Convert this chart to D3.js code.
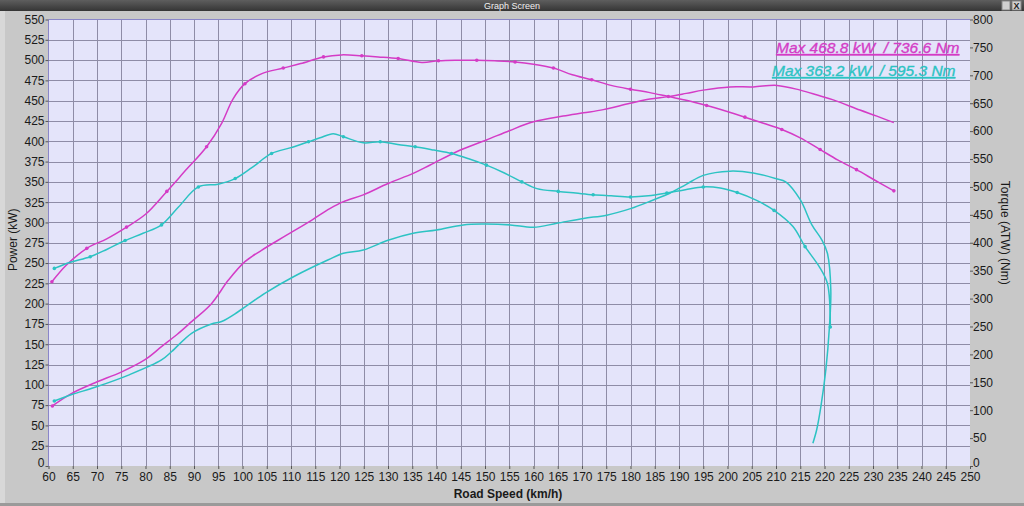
<!DOCTYPE html>
<html><head><meta charset="utf-8">
<script src="https://cdn.jsdelivr.net/npm/d3@7"></script>
<style>
html,body{margin:0;padding:0;background:#c9c9c9;}
svg{display:block;font-family:Arial,"Liberation Sans",sans-serif;}
</style></head>
<body>
<svg id="c" width="1024" height="506"></svg>
<script>
// ---- data ----
const speedTicks = d3.range(60, 251, 5);
const powerTicks = d3.range(0, 551, 25);
const torqueTicks = d3.range(0, 801, 50);

// Run 1 (magenta) power kW
const magentaPower = [[60.8,74],[64.8,89.5],[69.6,102.6],[75.1,116],[79.9,131],[83.3,147],[86.5,162],[89.5,177.8],[93.6,200],[97.1,229],[100.5,251.7],[104,266],[109,284],[114.3,303],[118,317],[120.8,325.6],[124.9,334],[130,348],[135.2,360.5],[138.7,370.8],[144.8,389],[150.3,401.6],[155,413],[160,424],[166.1,431],[170.3,435],[174.4,439],[179.9,446.8],[184,452],[187.8,455],[191.5,459],[195,463],[200.5,467],[205.3,467],[210.2,468.8],[215,463],[218.5,457],[221.8,451],[227.3,438.5],[230.8,431],[234.3,423]];
// Run 1 (magenta) torque Nm
const magentaTorque = [[60.7,330],[63.7,360],[67.9,390],[72,407],[76.1,428],[80,451],[84.4,492],[88,527],[92.6,572],[95.7,614],[98,657],[100.5,685],[104,703],[108.4,713],[112,721],[116.7,733],[120.4,736.6],[124.6,735],[128,733],[132.1,730],[137,723],[140.4,726],[144,727],[148.3,727],[152,726],[156.2,724],[160,720],[164.1,713],[168,701],[172,692],[176,682],[180,675],[184,669],[187.8,662],[191.7,655],[195.7,646],[199.6,636],[203.6,625],[207.4,614],[211.2,603],[215,588],[219.1,567],[222.8,548],[226.6,531],[230.4,512],[234.3,493]];
const magentaMarks = [60.7,67.9,76.1,84.4,92.6,100.5,108.4,116.7,124.6,132.1,140.4,148.3,156.2,164.1,172,180,187.8,195.7,203.6,211.2,219.1,226.6,234.3];

// Run 2 (cyan) power kW
const cyanPower = [[61.2,80],[64.8,88],[69.6,97],[76.5,112],[83.3,130.6],[85.4,141],[89.5,163.5],[93.6,175],[95.7,178],[99.1,190],[104.6,212.7],[110.8,234],[117.7,254],[120.8,262],[124.9,266],[130,278],[135.2,286.6],[140,290.7],[145.5,297],[149.7,298],[155.2,297],[160,294],[164.8,299],[170.3,305],[175.1,309],[180,317],[184.7,327.7],[188.1,336],[191.5,347],[195,358],[200.5,363.2],[205.3,361],[210,354],[212,350],[215,328],[217.4,297],[219.5,278],[220.6,262],[221.3,217],[221,170],[220.3,120],[219.3,75],[218.4,45],[217.6,28]];
// Run 2 (cyan) torque Nm
const cyanTorque = [[61.2,354],[64.5,365],[68.6,375],[72,388],[75.8,404],[79.5,417],[83.3,432],[86.8,464],[90.9,500],[95,505],[98.5,515],[102,535],[106,560],[109.8,570],[113.6,581],[116,588],[118.7,595.3],[120.8,590],[124.9,579],[128.4,581],[132,576],[135.6,572],[139.5,566],[143.1,560],[146.8,550],[150.3,539],[154,525],[157.6,509],[160.7,497],[165.1,492],[168.7,489],[172.3,486],[176,484],[180,482],[183.7,484],[187.5,489],[191.3,495],[195,500],[198.5,498],[202,490],[206,476],[209.6,458],[213.5,429],[216,393],[219,356],[220.6,327],[221.2,249]];
const cyanMarks = [61.2,68.6,75.8,83.3,90.9,98.5,106,113.6,120.8,128.4,135.6,143.1,150.3,157.6,165.1,172.3,180,187.5,195,202,209.6,216,221.2];

const legendLines = ["Max 468.8 kW  / 736.6 Nm", "Max 363.2 kW  / 595.3 Nm"];
const colors = {magenta:"#d43cc6", cyan:"#2cc3c3"};

// ---- layout ----
const W = 1024, H = 506;
const plot = {l:48.5, r:970, t:19.5, b:466};
const svg = d3.select("#c");

const x = d3.scaleLinear().domain([60,250]).range([plot.l, plot.r]);
const yP = d3.scaleLinear().domain([0,550]).range([plot.b, plot.t]);
const yT = d3.scaleLinear().domain([0,800]).range([plot.b, plot.t]);

// window background
svg.append("rect").attr("width",W).attr("height",H).attr("fill","#c8c8c8");
svg.append("rect").attr("x",0).attr("y",11).attr("width",5).attr("height",H-11).attr("fill","#d8d8d8");
svg.append("rect").attr("x",0).attr("y",H-3).attr("width",W).attr("height",3).attr("fill","#9a9a9a");

// title bar
const grad = svg.append("defs").append("linearGradient").attr("id","tb").attr("x1",0).attr("x2",0).attr("y1",0).attr("y2",1);
grad.append("stop").attr("offset",0).attr("stop-color","#5e5e5e");
grad.append("stop").attr("offset",1).attr("stop-color","#353535");
svg.append("rect").attr("width",W).attr("height",11).attr("fill","url(#tb)");
svg.append("text").attr("x",512).attr("y",9).attr("text-anchor","middle").attr("font-size",9).attr("fill","#f0f0f0").text("Graph Screen");
svg.append("rect").attr("x",1002).attr("y",1).attr("width",8).attr("height",9).attr("fill","#d0d0d0").attr("stroke","#888");
svg.append("rect").attr("x",1012).attr("y",1).attr("width",9).attr("height",9).attr("fill","#d0d0d0").attr("stroke","#888");
svg.append("text").attr("x",1016.5).attr("y",9).attr("text-anchor","middle").attr("font-size",9).attr("font-weight","bold").attr("fill","#222").text("X");

// plot background
svg.append("rect").attr("x",plot.l).attr("y",plot.t).attr("width",plot.r-plot.l).attr("height",plot.b-plot.t).attr("fill","#e4e4fa");

// grid
const grid = svg.append("g").attr("stroke","#8e8ca6").attr("stroke-width",1).attr("shape-rendering","crispEdges");
grid.selectAll("line.v").data(speedTicks.slice(1,-1)).join("line")
  .attr("x1",d=>Math.round(x(d))+0.5).attr("x2",d=>Math.round(x(d))+0.5).attr("y1",plot.t).attr("y2",plot.b);
grid.selectAll("line.h").data(powerTicks.slice(1,-1)).join("line")
  .attr("y1",d=>Math.round(yP(d))+0.5).attr("y2",d=>Math.round(yP(d))+0.5).attr("x1",plot.l).attr("x2",plot.r);
// plot border (left/top)
svg.append("line").attr("x1",plot.l).attr("x2",plot.l).attr("y1",plot.t).attr("y2",plot.b).attr("stroke","#8a86c8");
svg.append("line").attr("x1",plot.l).attr("x2",plot.r).attr("y1",plot.t).attr("y2",plot.t).attr("stroke","#8a86c8");

// axes
const axisStyle = g => {
  g.select(".domain").remove();
  g.selectAll("text").attr("fill","#1a1a1a").attr("font-size",12).attr("font-family","Arial,'Liberation Sans',sans-serif");
  g.selectAll("line").attr("stroke","#555");
};
const gl = svg.append("g").attr("transform",`translate(${plot.l},0)`)
  .call(d3.axisLeft(yP).tickValues(powerTicks).tickSize(3).tickPadding(1)).call(axisStyle);
const gr = svg.append("g").attr("transform",`translate(${plot.r},0)`)
  .call(d3.axisRight(yT).tickValues(torqueTicks).tickSize(3).tickPadding(0)).call(axisStyle);
// lift the zero labels slightly, as in the reference
gl.selectAll(".tick").filter(d=>d===0).select("text").attr("dy","0.05em");
gr.selectAll(".tick").filter(d=>d===0).select("text").attr("dy","0.05em");
svg.append("g").attr("transform",`translate(0,${plot.b})`)
  .call(d3.axisBottom(x).tickValues(speedTicks).tickSize(3).tickPadding(3)).call(axisStyle);

// axis titles
svg.append("text").attr("transform",`translate(17,${(plot.t+plot.b)/2 - 3}) rotate(-90)`).attr("text-anchor","middle")
  .attr("font-size",12).attr("fill","#1a1a1a").text("Power (kW)");
svg.append("text").attr("transform",`translate(1001,${(plot.t+plot.b)/2 - 10}) rotate(90)`).attr("text-anchor","middle")
  .attr("font-size",12).attr("fill","#1a1a1a").text("Torque (ATW) (Nm)");
svg.append("text").attr("x",508).attr("y",498).attr("text-anchor","middle")
  .attr("font-size",12).attr("font-weight","bold").attr("fill","#1a1a1a").text("Road Speed (km/h)");

// curves
const clipId = "pc";
svg.append("clipPath").attr("id",clipId).append("rect").attr("x",plot.l).attr("y",plot.t).attr("width",plot.r-plot.l).attr("height",plot.b-plot.t);
const curves = svg.append("g").attr("clip-path",`url(#${clipId})`);
const lineP = d3.line().x(d=>x(d[0])).y(d=>yP(d[1])).curve(d3.curveCatmullRom.alpha(0.5));
const lineT = d3.line().x(d=>x(d[0])).y(d=>yT(d[1])).curve(d3.curveCatmullRom.alpha(0.5));

const series = [
  {data:magentaPower, line:lineP, color:colors.magenta, marks:[]},
  {data:magentaTorque, line:lineT, color:colors.magenta, marks:magentaMarks, y:yT},
  {data:cyanPower, line:lineP, color:colors.cyan, marks:[]},
  {data:cyanTorque, line:lineT, color:colors.cyan, marks:cyanMarks, y:yT},
];
series.forEach(s=>{
  curves.append("path").attr("d",s.line(s.data)).attr("fill","none").attr("stroke",s.color).attr("stroke-width",1.5);
  const pts = s.data.filter(d=>s.marks.includes(d[0]));
  curves.selectAll(null).data(pts).join("circle").attr("cx",d=>x(d[0])).attr("cy",d=>s.y(d[1])).attr("r",1.8).attr("fill",s.color);
});
[[magentaPower,colors.magenta],[cyanPower,colors.cyan]].forEach(([d,c])=>{
  curves.append("circle").attr("cx",x(d[0][0])).attr("cy",yP(d[0][1])).attr("r",1.8).attr("fill",c);
});

// legend
const legColors = [colors.magenta, colors.cyan];
const legX = [776, 772];
legendLines.forEach((t,i)=>{
  svg.append("text").attr("x",legX[i]).attr("y",53+i*23).attr("font-size",15.5).attr("font-style","italic")
    .attr("fill",legColors[i]).attr("stroke",legColors[i]).attr("stroke-width",0.35)
    .attr("text-decoration","underline").style("white-space","pre").text(t);
});
</script>
</body></html>
